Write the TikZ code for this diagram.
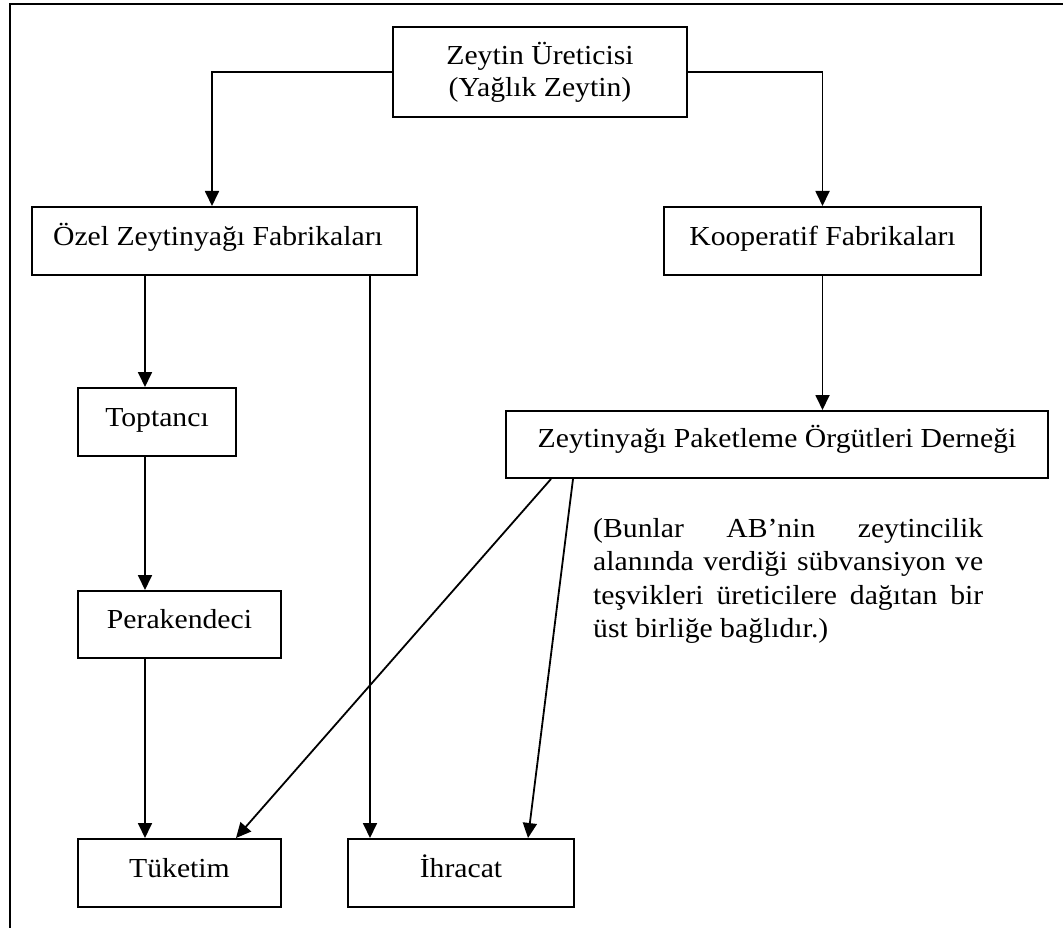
\documentclass[tikz,border=0pt]{standalone}
\usepackage{fontspec}
\setmainfont{Liberation Serif}[FakeStretch=1.08]
\usetikzlibrary{arrows.meta,calc}
\tikzset{
  box/.style={draw, line width=2pt, inner sep=0pt, rectangle},
  lbl/.style={anchor=base, inner sep=0pt, font=\fontsize{27.5}{33}\selectfont},
  conn/.style={line width=1.8pt},
  arr/.style={conn, -{Triangle[width=14pt,length=15pt]}},
  frame/.style={line width=2.2pt}
}
\begin{document}
\begin{tikzpicture}[x=1pt,y=-1pt]
\useasboundingbox (0,0) rectangle (1063,928);
\fill[white] (0,0) rectangle (1063,928);
\draw[frame] (10,928) -- (10,4) -- (1063,4);

% boxes
\node[box, minimum width=294pt, minimum height=90pt] (prod) at (540,72) {};
\node[box, minimum width=385pt, minimum height=68pt] (ozel) at (224.5,241) {};
\node[box, minimum width=317pt, minimum height=68pt] (koop) at (822.5,241) {};
\node[box, minimum width=158pt, minimum height=68pt] (topt) at (157,422) {};
\node[box, minimum width=203pt, minimum height=67pt] (perak) at (179.5,624.5) {};
\node[box, minimum width=542pt, minimum height=67pt] (paket) at (777,444.5) {};
\node[box, minimum width=203pt, minimum height=68pt] (tuk) at (179.5,873) {};
\node[box, minimum width=226pt, minimum height=68pt] (ihr) at (461,873) {};

% texts
\node[lbl] (prodt1) at (540,65) {Zeytin Üreticisi};
\node[lbl] (prodt2) at (540,97) {(Yağlık Zeytin)};
\node[lbl] (ozelt) at (218,246) {Özel Zeytinyağı Fabrikaları};
\node[lbl] (koopt) at (822.5,246) {Kooperatif Fabrikaları};
\node[lbl] (toptt) at (157,426) {Toptancı};
\node[lbl] (perakt) at (179.5,628) {Perakendeci};
\node[lbl] (pakett) at (777,447) {Zeytinyağı Paketleme Örgütleri Derneği};
\node[lbl] (tukt) at (179.5,877) {Tüketim};
\node[lbl] (ihrt) at (461,877) {İhracat};

\node[anchor=base west, inner sep=0pt, font=\fontsize{27.5}{33.5}\selectfont] (note) at (593,537)
 {\parbox[t]{390pt}{%
  \makebox[390pt][s]{(Bunlar AB’nin zeytincilik}\\
  \makebox[390pt][s]{alanında verdiği sübvansiyon ve}\\
  \makebox[390pt][s]{teşvikleri üreticilere dağıtan bir}\\
  üst birliğe bağlıdır.)}};

% connectors
\draw[arr] (prod.west) -| ([xshift=181pt]ozel.north west);
\draw[arr] (prod.east) -| (koop.north);
\draw[arr] ([xshift=114pt]ozel.south west) -- ([xshift=68pt]topt.north west);
\draw[arr] ([xshift=339pt]ozel.south west) -- ([xshift=23pt]ihr.north west);
\draw[arr] ([xshift=68pt]topt.south west) -- ([xshift=68pt]perak.north west);
\draw[arr] ([xshift=68pt]perak.south west) -- ([xshift=68pt]tuk.north west);
\draw[arr] (koop.south) -- (koop.south |- paket.north);
\draw[arr] ([xshift=46pt]paket.south west) -- ([xshift=159pt]tuk.north west);
\draw[arr] ([xshift=68pt]paket.south west) -- ([xshift=181pt]ihr.north west);
\end{tikzpicture}
\end{document}
